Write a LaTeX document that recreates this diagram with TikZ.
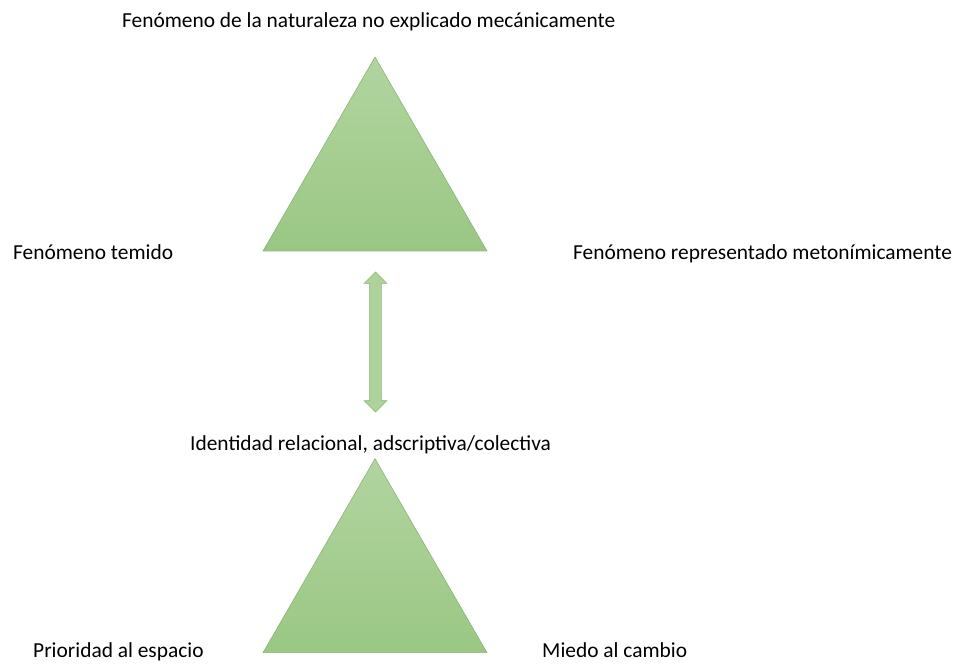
\documentclass[tikz,border=0pt]{standalone}
\usepackage{fontspec}
\setmainfont{Carlito}
\usepackage{tikz}
\usetikzlibrary{shapes.geometric,shapes.arrows}

\definecolor{lightgreen}{RGB}{178,212,160}
\definecolor{darkgreen}{RGB}{154,199,132}
\definecolor{edgegreen}{RGB}{138,182,118}

\begin{document}
\begin{tikzpicture}[x=1pt,y=-1pt,
  tri node/.style={regular polygon,regular polygon sides=3,minimum size=258.6pt,inner sep=0pt,
    top color=lightgreen,bottom color=darkgreen,draw=edgegreen,line width=0.6pt},
  text node/.style={font=\fontsize{21.4}{25}\selectfont,inner sep=0pt,anchor=base west},
  fat arrow/.style={double arrow,rotate=90,minimum height=140pt,inner xsep=0pt,inner ysep=5.5pt,
    double arrow head extend=5.5pt,fill=lightgreen!85!darkgreen,draw=edgegreen,line width=0.6pt}]

  \useasboundingbox (0,0) rectangle (958,664);

  % triangles
  \node[tri node] (t1) at (375,186.3) {};
  \node[tri node] (t2) at (375,588) {};

  % arrow between them
  \node[fat arrow] (arr) at (375.5,342) {};

  % labels
  \node[text node] (top)   at (122,27)  {Fenómeno de la naturaleza no explicado mecánicamente};
  \node[text node] (left)  at (13,259)  {Fenómeno temido};
  \node[text node] (right) at (573,259) {Fenómeno representado metonímicamente};
  \node[text node] (mid)   at (190,450) {Identidad relacional, adscriptiva/colectiva};
  \node[text node] (bl)    at (33,657)  {Prioridad al espacio};
  \node[text node] (br)    at (542,657) {Miedo al cambio};
\end{tikzpicture}
\end{document}
